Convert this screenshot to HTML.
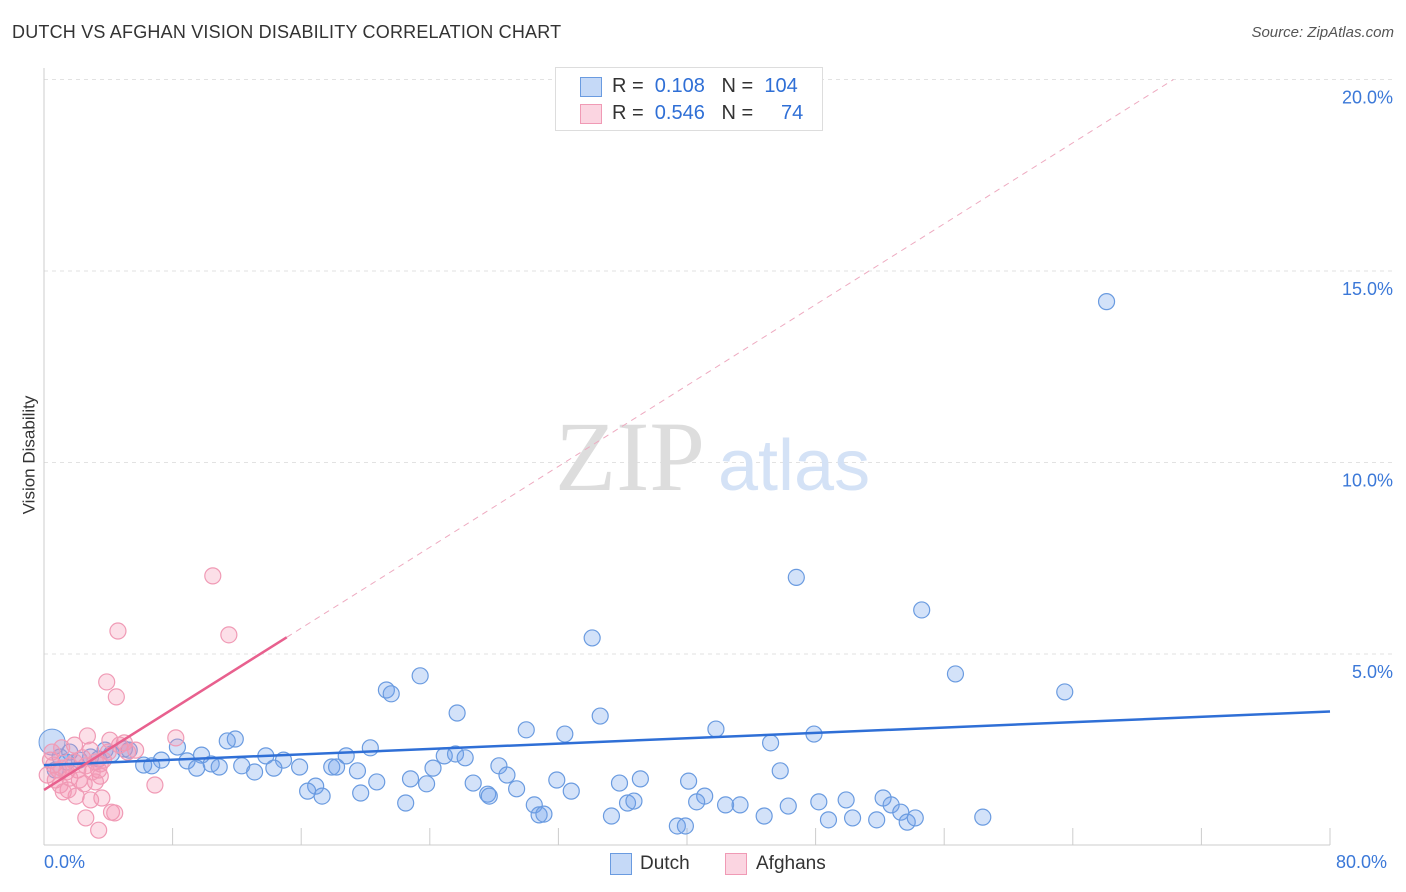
<!DOCTYPE html>
<html><head><meta charset="utf-8">
<style>
body{margin:0;background:#fff;font-family:"Liberation Sans",sans-serif;}
#wrap{position:relative;width:1406px;height:892px;overflow:hidden;}
.t{position:absolute;white-space:nowrap;}
</style></head>
<body>
<div id="wrap">
<div class="t" style="left:12px;top:22px;font-size:18px;color:#333;letter-spacing:0.2px;">DUTCH VS AFGHAN VISION DISABILITY CORRELATION CHART</div>
<div class="t" style="right:12px;top:24px;font-size:15px;color:#555;font-style:italic;">Source: ZipAtlas.com</div>
<svg id="svg" width="1406" height="892" style="position:absolute;left:0;top:0;"></svg>
</div>
<script>
const dutchX=[66.1,46.8,54.6,34.1,56.7,63.5,23.4,21.3,21.6,25.7,34.6,30.0,32.4,41.8,47.9,45.2,11.9,11.4,8.3,5.0,3.8,20.3,18.8,9.8,13.8,14.9,24.9,25.6,26.2,7.3,8.9,10.4,6.2,6.7,9.5,10.9,12.3,13.1,14.3,15.9,17.9,18.2,19.5,24.2,28.3,28.8,45.8,22.8,20.7,26.7,31.9,37.1,40.1,35.8,23.8,16.9,16.4,17.3,19.7,27.6,29.4,32.8,27.7,41.1,22.5,30.5,36.3,36.7,40.6,42.4,43.3,46.3,48.2,49.9,52.2,52.7,53.3,30.8,31.1,35.3,44.8,48.8,50.3,51.8,53.7,54.2,58.4,39.4,39.9,33.3,1.0,1.6,2.2,2.9,3.4,4.2,5.3,0.7,1.4];
const dutchY=[14.2,7.0,6.15,5.42,4.48,4.01,4.43,4.06,3.96,3.46,3.38,3.02,2.91,3.04,2.91,2.68,2.78,2.73,2.57,2.52,2.49,2.55,2.34,2.36,2.34,2.23,2.34,2.39,2.29,2.23,2.21,2.13,2.10,2.08,2.02,2.05,2.08,1.92,2.02,2.05,2.05,2.05,1.95,2.02,2.08,1.84,1.95,1.74,1.66,1.63,1.71,1.74,1.68,1.63,1.61,1.55,1.42,1.29,1.37,1.34,1.48,1.42,1.29,1.29,1.11,1.06,1.11,1.16,1.14,1.06,1.06,1.03,1.14,1.19,1.24,1.06,0.87,0.80,0.82,0.77,0.77,0.67,0.72,0.67,0.61,0.72,0.74,0.51,0.51,19.5,2.31,2.44,2.23,2.31,2.26,2.39,2.49,1.97,2.18];
const afgX=[10.5,11.5,4.6,3.9,4.5,8.2,2.7,5.0,5.7,6.9,3.4,3.5,3.2,3.6,4.2,4.4,3.4,2.6,2.9,2.0,1.5,1.0,0.4,0.6,0.9,1.1,1.4,1.6,1.9,2.1,2.4,2.6,2.9,3.2,3.7,4.0,4.7,5.2,4.1,1.9,1.1,0.5,0.2,0.7,1.6,2.5,3.0,3.5,1.2,2.2];
const afgY=[7.04,5.50,5.60,4.27,3.88,2.81,2.86,2.68,2.49,1.58,1.97,1.81,1.66,1.24,0.87,0.85,0.40,0.72,1.19,1.29,1.45,1.58,2.23,2.10,1.97,2.02,1.92,2.08,2.18,1.97,2.29,2.08,2.49,2.18,2.23,2.44,2.62,2.44,2.75,2.62,2.55,2.44,1.84,1.71,1.76,1.61,1.92,2.13,1.40,1.71];
const yTicks=[5,10,15,20];
const yTickLabels=["5.0%","10.0%","15.0%","20.0%"];
const xTicks=[0,8,16,24,32,40,48,56,64,72,80];
const dutchTrend=[2.1,3.5];
const afgTrend=[1.45,0.264];

const X0=44,X1=1330,YB=845.5,PX=191.5/5;
const sx=v=>X0+(X1-X0)*v/80;
const sy=v=>YB-v*PX;
const svg=document.getElementById('svg');
const NS='http://www.w3.org/2000/svg';
function mk(tag,attrs,parent){const e=document.createElementNS(NS,tag);for(const k in attrs)e.setAttribute(k,attrs[k]);(parent||svg).appendChild(e);return e;}

yTicks.forEach((v,i)=>{
  const g=mk('line',{x1:X0,x2:1395,y1:sy(v),y2:sy(v),stroke:'#e2e2e2','stroke-dasharray':'4,4'});
  
  
  const t=mk('text',{x:1393,y:sy(v)+24,'text-anchor':'end','font-size':18,fill:'#3b78d8','font-family':'Liberation Sans, sans-serif'});
  t.textContent=yTickLabels[i];
  
  
});
const ax=mk('line',{x1:X0,x2:X0,y1:68,y2:845,stroke:'#ccc'});


const bx=mk('line',{x1:X0,x2:X1,y1:845,y2:845,stroke:'#ccc'});


xTicks.forEach(v=>{
  const l=mk('line',{x1:sx(v),x2:sx(v),y1:828,y2:845,stroke:'#ccc'});
  
  
});
const w1=mk('text',{x:555,y:490,'font-size':100,fill:'#ddd','font-family':'Liberation Serif, serif'});
w1.textContent='ZIP';


const w2=mk('text',{x:718,y:490,'font-size':72,fill:'#d4e2f6','font-family':'Liberation Sans, sans-serif'});
w2.textContent='atlas';



dutchX.forEach((v,i)=>{
  const c=mk('circle',{cx:sx(v),cy:sy(dutchY[i]),r:8,fill:'rgba(110,160,235,0.3)',stroke:'#6a9be0','stroke-width':1.2});
  
  
});
const big=mk('circle',{cx:sx(0.5),cy:sy(2.7),r:13,fill:'rgba(110,160,235,0.35)',stroke:'#6a9be0'});


afgX.forEach((v,i)=>{
  const c=mk('circle',{cx:sx(v),cy:sy(afgY[i]),r:8,fill:'rgba(245,150,180,0.3)',stroke:'#f09ab5','stroke-width':1.2});
  
  
});
const dt=mk('line',{x1:sx(0),y1:sy(dutchTrend[0]),x2:sx(80),y2:sy(dutchTrend[1]),stroke:'#2f6fd6','stroke-width':2.5});


const at=mk('line',{x1:sx(0),y1:sy(afgTrend[0]),x2:sx(15.1),y2:sy(afgTrend[0]+afgTrend[1]*15.1),stroke:'#e8608e','stroke-width':2.5});


const xe=(20-afgTrend[0])/afgTrend[1];
const ad=mk('line',{x1:sx(15.1),y1:sy(afgTrend[0]+afgTrend[1]*15.1),x2:sx(xe),y2:sy(20),stroke:'#eeaac0','stroke-width':1,'stroke-dasharray':'6,5'});


</script>
<div class="t" style="left:-30px;top:445px;font-size:17px;color:#333;transform:rotate(-90deg);">Vision Disability</div>
<div class="t" style="left:44px;top:852px;font-size:18px;color:#3b78d8;">0.0%</div>
<div class="t" style="left:1336px;top:852px;font-size:18px;color:#3b78d8;">80.0%</div>
<div style="position:absolute;left:555px;top:67px;width:266px;height:62px;border:1px solid #ddd;background:#fff;font-size:20px;color:#333;">
 <div style="position:absolute;left:24px;top:9px;width:20px;height:18px;background:rgba(110,160,235,0.4);border:1px solid #6a9be0;"></div>
 <div class="t" style="left:56px;top:7px;">R = &nbsp;<span style="color:#2f6fd6">0.108</span> &nbsp;&nbsp;N = &nbsp;<span style="color:#2f6fd6">104</span></div>
 <div style="position:absolute;left:24px;top:36px;width:20px;height:18px;background:rgba(245,150,180,0.4);border:1px solid #f09ab5;"></div>
 <div class="t" style="left:56px;top:34px;">R = &nbsp;<span style="color:#2f6fd6">0.546</span> &nbsp;&nbsp;N = &nbsp;&nbsp;&nbsp;&nbsp;<span style="color:#2f6fd6">74</span></div>
</div>
<div style="position:absolute;left:610px;top:853px;width:20px;height:20px;background:rgba(110,160,235,0.4);border:1px solid #6a9be0;"></div>
<div class="t" style="left:640px;top:853px;font-size:19px;color:#333;">Dutch</div>
<div style="position:absolute;left:725px;top:853px;width:20px;height:20px;background:rgba(245,150,180,0.4);border:1px solid #f09ab5;"></div>
<div class="t" style="left:756px;top:853px;font-size:19px;color:#333;">Afghans</div>
</body></html>
